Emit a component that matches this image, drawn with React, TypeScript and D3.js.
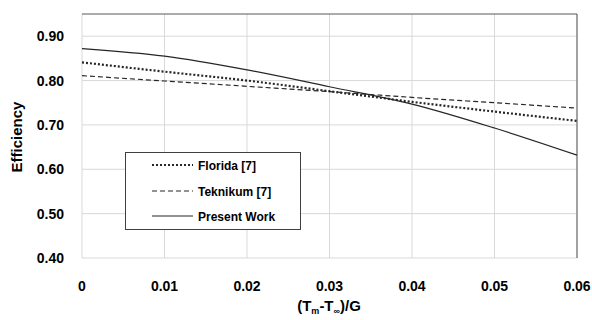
import React from "react";
import * as d3 from "d3";

const xValues = [0, 0.01, 0.02, 0.03, 0.04, 0.05, 0.06];
const florida = [0.841, 0.82, 0.8, 0.776, 0.752, 0.73, 0.709];
const teknikum = [0.811, 0.799, 0.787, 0.775, 0.762, 0.75, 0.738];
const presentWork = [0.872, 0.855, 0.824, 0.786, 0.747, 0.693, 0.632];
const yTicks = [0.4, 0.5, 0.6, 0.7, 0.8, 0.9];
const xTicks = [0, 0.01, 0.02, 0.03, 0.04, 0.05, 0.06];
const legendLabels = ["Florida [7]", "Teknikum [7]", "Present Work"];

const W = 592, H = 320;
const L = 82, R = 577, T = 14, B = 258;

export default function App() {
  const x = d3.scaleLinear().domain([0, 0.06]).range([L, R]);
  const y = d3.scaleLinear().domain([0.4, 0.95]).range([B, T]);
  const line = d3.line<number>().x((_, i) => x(xValues[i])).y((d) => y(d)).curve(d3.curveMonotoneX);
  const font = "'Liberation Sans', Arial, sans-serif";
  const series = [
    { data: florida, dash: "2,2", w: 2.2 },
    { data: teknikum, dash: "5,3", w: 1.2 },
    { data: presentWork, dash: "", w: 1.2 },
  ];
  return (
    <svg width={W} height={H} style={{ position: "absolute", left: 0, top: 0, background: "#fff" }}>
      {yTicks.map((t) => (
        <line key={"gy" + t} x1={L} x2={R} y1={y(t)} y2={y(t)} stroke="#d9d9d9" strokeWidth={1} />
      ))}
      {xTicks.map((t) => (
        <line key={"gx" + t} x1={x(t)} x2={x(t)} y1={T} y2={B} stroke="#d9d9d9" strokeWidth={1} />
      ))}
      <line x1={L} x2={R} y1={T} y2={T} stroke="#595959" strokeWidth={1} />
      <line x1={R} x2={R} y1={T} y2={B} stroke="#595959" strokeWidth={1} />
      {series.map((s, i) => (
        <path key={i} d={line(s.data) || ""} fill="none" stroke="#262626" strokeWidth={s.w} strokeDasharray={s.dash} />
      ))}
      {yTicks.map((t) => (
        <text key={"ty" + t} x={64} y={y(t) + 5} textAnchor="end" fontFamily={font} fontWeight="bold" fontSize={14} fill="#000">
          {t.toFixed(2)}
        </text>
      ))}
      {xTicks.map((t) => (
        <text key={"tx" + t} x={x(t)} y={291} textAnchor="middle" fontFamily={font} fontWeight="bold" fontSize={14} fill="#000">
          {t === 0 ? "0" : t.toFixed(2)}
        </text>
      ))}
      <text x={329} y={311} textAnchor="middle" fontFamily={font} fontWeight="bold" fontSize={15} fill="#000">
        (T<tspan fontSize={9} dy={3}>m</tspan><tspan dy={-3}>-T</tspan><tspan fontSize={9} dy={3}>∞</tspan><tspan dy={-3}>)/G</tspan>
      </text>
      <text transform="translate(22,137) rotate(-90)" textAnchor="middle" fontFamily={font} fontWeight="bold" fontSize={15} fill="#000">
        Efficiency
      </text>
      <rect x={125.5} y={152.5} width={175} height={77} fill="#fff" stroke="#404040" strokeWidth={1} />
      {legendLabels.map((lab, i) => {
        const yy = [165, 191, 216][i];
        return (
          <g key={lab}>
            <line x1={152} x2={193} y1={yy} y2={yy} stroke="#262626" strokeWidth={series[i].w} strokeDasharray={series[i].dash} />
            <text x={198} y={yy + 4.5} fontFamily={font} fontWeight="bold" fontSize={12} fill="#000">
              {lab}
            </text>
          </g>
        );
      })}
    </svg>
  );
}
